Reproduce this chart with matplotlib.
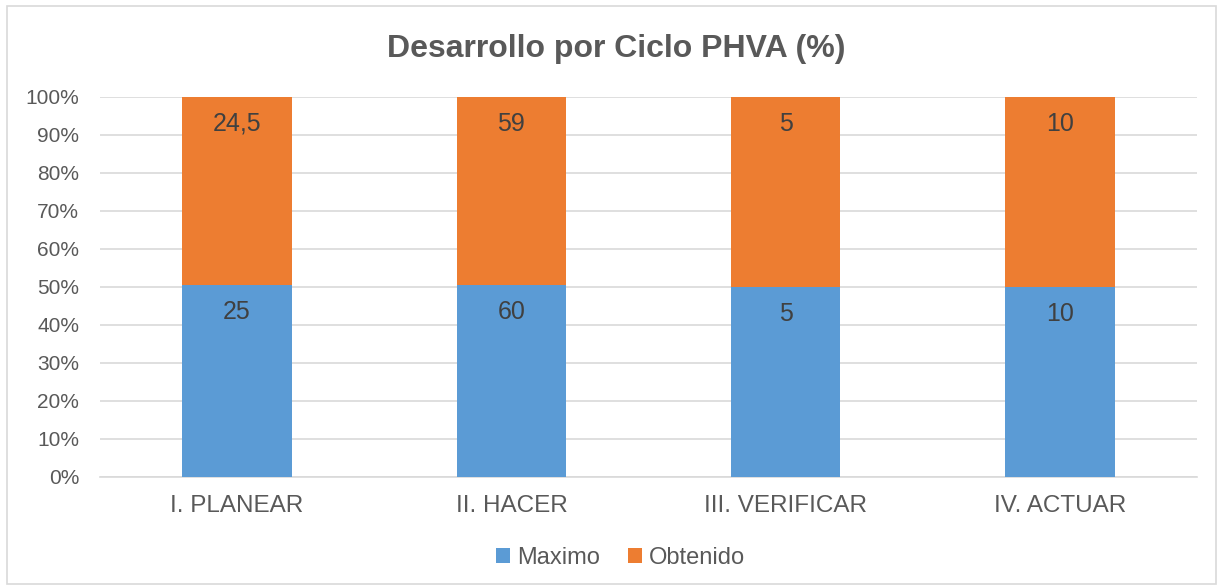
import matplotlib.pyplot as plt
import numpy as np
from matplotlib.patches import Rectangle

plt.rcParams['font.family'] = ['Liberation Sans', 'DejaVu Sans']

categories = ["I. PLANEAR", "II. HACER", "III. VERIFICAR", "IV. ACTUAR"]
maximo = [25, 60, 5, 10]
obtenido = [24.5, 59, 5, 10]
labels_max = ["25", "60", "5", "10"]
labels_obt = ["24,5", "59", "5", "10"]

BLUE = "#5B9BD5"
ORANGE = "#ED7D31"
TXT = "#595959"
GRID = "#D9D9D9"

fig = plt.figure(figsize=(12.23, 5.88), dpi=100)
ax = fig.add_axes([100 / 1223, 1 - 477 / 588, 1097 / 1223, 380 / 588])

mx = np.array(maximo, dtype=float)
ob = np.array(obtenido, dtype=float)
tot = mx + ob
p_max = mx / tot * 100
p_obt = ob / tot * 100
x = np.arange(len(categories))
w = 0.4

ax.bar(x, p_max, w, color=BLUE, label="Maximo", zorder=3)
ax.bar(x, p_obt, w, bottom=p_max, color=ORANGE, label="Obtenido", zorder=3)

for i in range(len(x)):
    ax.text(x[i], p_max[i] - 7, labels_max[i], ha="center", va="center",
            fontsize=18, color="#404040", zorder=4)
    ax.text(x[i], 100 - 7, labels_obt[i], ha="center", va="center",
            fontsize=18, color="#404040", zorder=4)

ax.set_xlim(-0.5, 3.5)
ax.set_ylim(0, 100)
ax.set_yticks(np.arange(0, 101, 10))
ax.set_yticklabels([f"{v}%" for v in range(0, 101, 10)], fontsize=15, color=TXT)
ax.set_xticks(x)
ax.set_xticklabels(categories, fontsize=17.5, color=TXT)
ax.tick_params(axis="both", length=0)
ax.tick_params(axis="x", pad=13)
ax.tick_params(axis="y", pad=15)
ax.yaxis.grid(True, color=GRID, lw=1.2, zorder=0)
ax.set_axisbelow(True)
for s in ["top", "right", "left"]:
    ax.spines[s].set_visible(False)
ax.spines["bottom"].set_color(GRID)
ax.spines["bottom"].set_linewidth(1.2)

fig.text(0.5 + 5 / 1223, 1 - 49 / 588, "Desarrollo por Ciclo PHVA (%)",
         ha="center", va="center", fontsize=23, fontweight="bold", color=TXT)

leg = fig.legend(loc="center", bbox_to_anchor=(0.5 + 9 / 1223, 1 - 558 / 588),
                 ncol=2, frameon=False, fontsize=17, handlelength=0.6,
                 handleheight=0.6, handletextpad=0.3, columnspacing=1.2)
for t in leg.get_texts():
    t.set_color(TXT)

fig.patches.append(Rectangle((7 / 1223, 4 / 588), 1 - 14 / 1223, 1 - 10 / 588,
                             transform=fig.transFigure, fill=False,
                             edgecolor=GRID, lw=1.2))

fig.savefig("out.png", dpi=100)
